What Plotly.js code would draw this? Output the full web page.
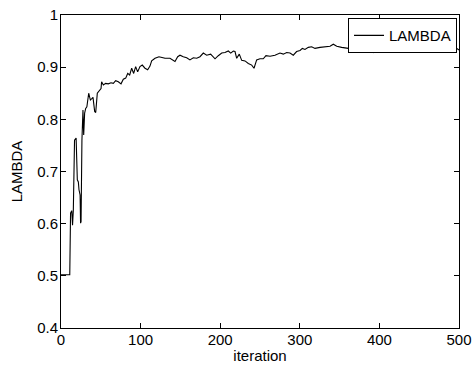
<!DOCTYPE html>
<html>
<head>
<meta charset="utf-8">
<script src="https://cdn.plot.ly/plotly-3.0.1.min.js"></script>
<style>html,body{margin:0;padding:0;background:#fff;}#chart{width:475px;height:367px;}</style>
</head>
<body>
<div id="chart"></div>
<script>
var iterations = [0, 11, 12, 13.5, 14.5, 15.5, 17, 19, 20.5, 21.8, 22.6, 24, 24.6, 25.2, 26.3, 27.6, 28.5, 29.7, 31, 32.5,
  34.8, 36.9, 39, 40.2, 42.3, 43.6, 45.6, 48.6, 50.3, 51, 53.2, 56.1, 59.4, 62.8, 65.7, 68.7, 72, 75.4, 78.3, 81.3,
  83.8, 86.3, 88.8, 91.3, 93.8, 96.3, 99.2, 102.1, 105.5, 108.9, 111.8, 113.9, 118.1, 123.1, 126.5, 130.7, 136.9, 143.2, 146.6, 149.5,
  153.6, 157.9, 162, 166.2, 170.5, 174.6, 178.8, 183, 188, 193.5, 197.6, 201.9, 206, 210.2, 213.2, 216.5, 218.6, 220.7, 224, 227,
  231.2, 235.3, 239.6, 242.5, 245.8, 250, 254.1, 257.5, 262.6, 268.8, 275.1, 279.3, 283.5, 287.7, 291.8, 296, 300.3, 303.2, 306.5, 310.7,
  314.9, 319.1, 325.4, 331.7, 338, 342.1, 346.4, 352.6, 361, 369.3, 375.6, 381.9, 388.2, 392.3, 396.6, 400.8, 407, 413.3, 421.7, 430,
  438.4, 446.9, 455, 465, 474, 480, 486.6, 492.9, 496.2, 497, 500];
var lambdaValues = [0.502, 0.502, 0.620, 0.625, 0.597, 0.626, 0.760, 0.764, 0.684, 0.680, 0.665, 0.655, 0.601, 0.604, 0.760, 0.818, 0.770, 0.812, 0.821, 0.824,
  0.850, 0.837, 0.840, 0.842, 0.815, 0.813, 0.850, 0.856, 0.859, 0.872, 0.866, 0.869, 0.868, 0.870, 0.869, 0.874, 0.872, 0.868, 0.877, 0.879,
  0.888, 0.885, 0.898, 0.888, 0.901, 0.891, 0.901, 0.904, 0.898, 0.895, 0.902, 0.912, 0.917, 0.920, 0.919, 0.917, 0.917, 0.911, 0.920, 0.923,
  0.920, 0.918, 0.914, 0.918, 0.917, 0.920, 0.927, 0.923, 0.925, 0.916, 0.922, 0.927, 0.928, 0.931, 0.927, 0.931, 0.930, 0.917, 0.925, 0.913,
  0.912, 0.907, 0.904, 0.898, 0.914, 0.916, 0.916, 0.922, 0.921, 0.923, 0.927, 0.925, 0.928, 0.927, 0.923, 0.930, 0.932, 0.936, 0.934, 0.938,
  0.939, 0.936, 0.938, 0.939, 0.940, 0.944, 0.940, 0.938, 0.936, 0.936, 0.937, 0.935, 0.933, 0.928, 0.936, 0.939, 0.937, 0.939, 0.941, 0.941,
  0.942, 0.944, 0.945, 0.944, 0.942, 0.939, 0.936, 0.935, 0.931, 0.936, 0.933];
var xTicks = [0, 100, 200, 300, 400, 500];
var yTicks = [0.4, 0.5, 0.6, 0.7, 0.8, 0.9, 1];
var yTickText = ['0.4', '0.5', '0.6', '0.7', '0.8', '0.9', '1'];

var font = {family: 'Liberation Sans, Arial, sans-serif', size: 15, color: '#000'};
var trace = {
  x: iterations, y: lambdaValues, type: 'scatter', mode: 'lines', name: 'LAMBDA',
  line: {color: '#000', width: 1.1}
};
var axisCommon = {
  showline: true, linecolor: '#000', linewidth: 1, mirror: 'ticks',
  ticks: 'inside', ticklen: 5, tickcolor: '#000', tickwidth: 1,
  showgrid: false, zeroline: false, tickfont: font
};
var layout = {
  width: 475, height: 367,
  margin: {l: 61, r: 16, t: 15, b: 39},
  paper_bgcolor: '#fff', plot_bgcolor: '#fff',
  font: font,
  showlegend: true,
  xaxis: Object.assign({}, axisCommon, {
    range: [0, 500], tickmode: 'array', tickvals: xTicks, ticktext: xTicks.map(String),
    ticklabelstandoff: -2,
    title: {text: 'iteration', font: font, standoff: 3}
  }),
  yaxis: Object.assign({}, axisCommon, {
    range: [0.4, 1], tickmode: 'array', tickvals: yTicks, ticktext: yTickText,
    ticklabelstandoff: -1,
    title: {text: 'LAMBDA', font: font, standoff: 10}
  }),
  legend: {
    x: 0.995, y: 0.99, xanchor: 'right', yanchor: 'top',
    bgcolor: '#fff', bordercolor: '#000', borderwidth: 1,
    font: font, tracegroupgap: 0
  }
};
Plotly.newPlot('chart', [trace], layout, {displayModeBar: false, staticPlot: true});
</script>
</body>
</html>
